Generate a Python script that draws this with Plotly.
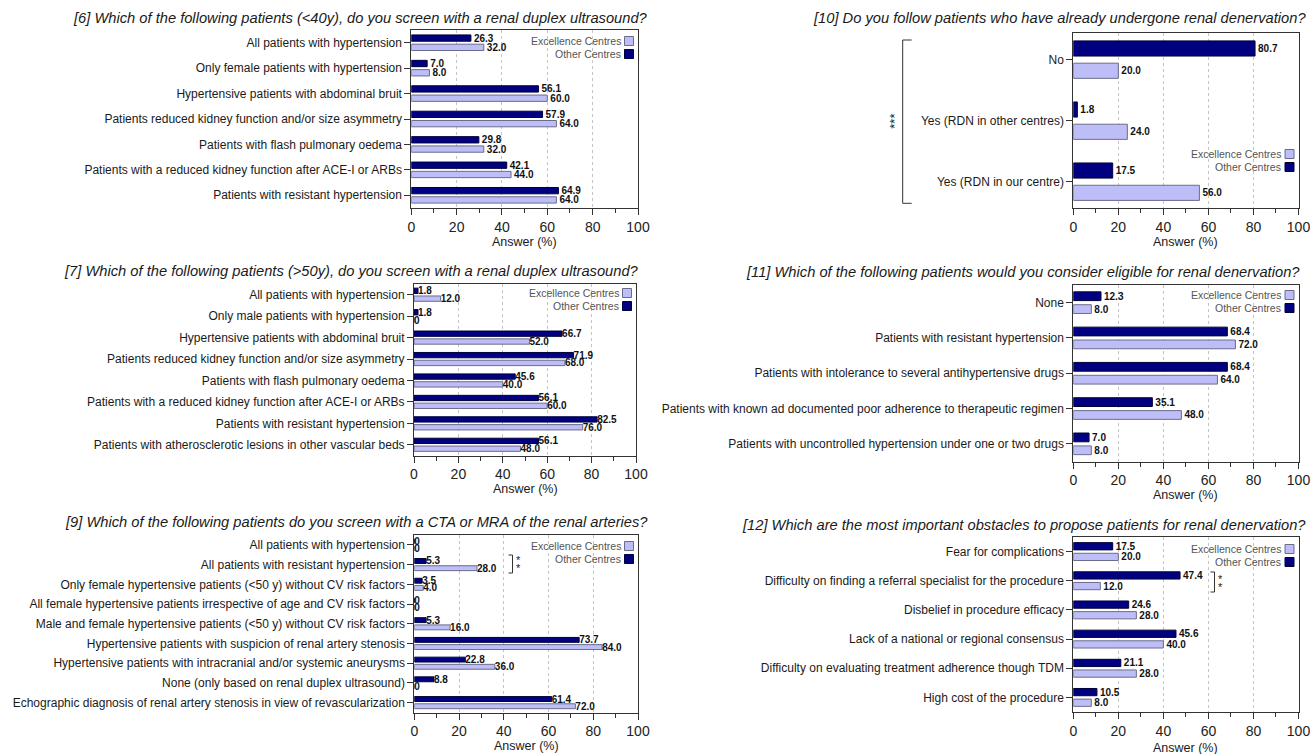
import plotly.graph_objects as go

W, H = 1311, 754
FONT = "Liberation Sans, Arial, sans-serif"

# ---------------- data ----------------
q6_title = "[6] Which of the following patients (&lt;40y), do you screen with a renal duplex ultrasound?"
q6_cats = ["All patients with hypertension", "Only female patients with hypertension",
           "Hypertensive patients with abdominal bruit", "Patients reduced kidney function and/or size asymmetry",
           "Patients with flash pulmonary oedema", "Patients with a reduced kidney function after ACE-I or ARBs",
           "Patients with resistant hypertension"]
q6_other = [26.3, 7.0, 56.1, 57.9, 29.8, 42.1, 64.9]
q6_exc = [32.0, 8.0, 60.0, 64.0, 32.0, 44.0, 64.0]

q10_title = "[10] Do you follow patients who have already undergone renal denervation?"
q10_cats = ["No", "Yes (RDN in other centres)", "Yes (RDN in our centre)"]
q10_other = [80.7, 1.8, 17.5]
q10_exc = [20.0, 24.0, 56.0]

q7_title = "[7] Which of the following patients (>50y), do you screen with a renal duplex ultrasound?"
q7_cats = ["All patients with hypertension", "Only male patients with hypertension",
           "Hypertensive patients with abdominal bruit", "Patients reduced kidney function and/or size asymmetry",
           "Patients with flash pulmonary oedema", "Patients with a reduced kidney function after ACE-I or ARBs",
           "Patients with resistant hypertension", "Patients with atherosclerotic lesions in other vascular beds"]
q7_other = [1.8, 1.8, 66.7, 71.9, 45.6, 56.1, 82.5, 56.1]
q7_exc = [12.0, 0, 52.0, 68.0, 40.0, 60.0, 76.0, 48.0]

q11_title = "[11] Which of the following patients would you consider eligible for renal denervation?"
q11_cats = ["None", "Patients with resistant hypertension",
            "Patients with intolerance to several antihypertensive drugs",
            "Patients with known ad documented poor adherence to therapeutic regimen",
            "Patients with uncontrolled hypertension under one or two drugs"]
q11_other = [12.3, 68.4, 68.4, 35.1, 7.0]
q11_exc = [8.0, 72.0, 64.0, 48.0, 8.0]

q9_title = "[9] Which of the following patients do you screen with a CTA or MRA of the renal arteries?"
q9_cats = ["All patients with hypertension", "All patients with resistant hypertension",
           "Only female hypertensive patients (<50 y) without CV risk factors",
           "All female hypertensive patients irrespective of age and CV risk factors",
           "Male and female hypertensive patients (<50 y) without CV risk factors",
           "Hypertensive patients with suspicion of renal artery stenosis",
           "Hypertensive patients with intracranial and/or systemic aneurysms",
           "None (only based on renal duplex ultrasound)",
           "Echographic diagnosis of renal artery stenosis in view of revascularization"]
q9_other = [0, 5.3, 3.5, 0, 5.3, 73.7, 22.8, 8.8, 61.4]
q9_exc = [0, 28.0, 4.0, 0, 16.0, 84.0, 36.0, 0, 72.0]

q12_title = "[12] Which are the most important obstacles to propose patients for renal denervation?"
q12_cats = ["Fear for complications", "Difficulty on finding a referral specialist for the procedure",
            "Disbelief in procedure efficacy", "Lack of a national or regional consensus",
            "Difficulty on evaluating treatment adherence though TDM", "High cost of the procedure"]
q12_other = [17.5, 47.4, 24.6, 45.6, 21.1, 10.5]
q12_exc = [20.0, 12.0, 28.0, 40.0, 28.0, 8.0]

x_ticks = [0, 20, 40, 60, 80, 100]
x_title = "Answer (%)"
series_names = ["Other Centres", "Excellence Centres"]

# ---------------- styles / geometry (pixels) ----------------
OTHER = "#000080"
OTHER_LINE = "#00003a"
EXC = "#bdbdf7"
EXC_LINE = "#6c6c8a"

panels = [
    dict(title=q6_title, cats=q6_cats, other=q6_other, exc=q6_exc,
         px=(411.3, 638.0), py=(30, 208), tx=650, ty=18, aty=242, leg=(41, 54)),
    dict(title=q10_title, cats=q10_cats, other=q10_other, exc=q10_exc,
         px=(1073.3, 1298.5), py=(33, 208.3), tx=1308, ty=18, aty=242, leg=(154, 167),
         yrange=[2.436, -0.436]),
    dict(title=q7_title, cats=q7_cats, other=q7_other, exc=q7_exc,
         px=(414.0, 636.0), py=(284, 455.5), tx=641, ty=271, aty=489, leg=(293, 306)),
    dict(title=q11_title, cats=q11_cats, other=q11_other, exc=q11_exc,
         px=(1073.3, 1298.5), py=(285, 461.5), tx=1302, ty=272, aty=495, leg=(295, 308)),
    dict(title=q9_title, cats=q9_cats, other=q9_other, exc=q9_exc,
         px=(414.3, 638.0), py=(535, 712.5), tx=650, ty=522, aty=746, leg=(546, 559)),
    dict(title=q12_title, cats=q12_cats, other=q12_other, exc=q12_exc,
         px=(1073.3, 1298.5), py=(537, 712), tx=1308, ty=525, aty=748, leg=(549, 562)),
]


def fx(p):
    return p / W


def fy(p):
    return 1 - p / H


def fmt(vals):
    return ["0" if v == 0 else f"{v:.1f}" for v in vals]


fig = go.Figure()
layout = dict(
    width=W, height=H, margin=dict(l=0, r=0, t=0, b=0, autoexpand=False),
    paper_bgcolor="white", plot_bgcolor="white",
    barmode="group", bargap=0.27, bargroupgap=0.32,
    showlegend=False, font=dict(family=FONT, color="#1a1a1a"),
)
annotations = []
shapes = []

for i, p in enumerate(panels, start=1):
    sx = "" if i == 1 else str(i)
    xa, ya = "x" + sx, "y" + sx
    for name, vals, col, lcol in [(series_names[0], p["other"], OTHER, OTHER_LINE),
                                  (series_names[1], p["exc"], EXC, EXC_LINE)]:
        fig.add_trace(go.Bar(
            y=p["cats"], x=vals, orientation="h", name=name, xaxis=xa, yaxis=ya,
            marker=dict(color=col, line=dict(color=lcol, width=1)),
            text=fmt(vals), textposition="outside", constraintext="none", cliponaxis=False,
            textfont=dict(size=10, color="#111111", family=FONT, weight="bold"),
        ))
    layout["xaxis" + sx] = dict(
        domain=[fx(p["px"][0]), fx(p["px"][1])], anchor=ya, range=[0, 100],
        tickvals=x_ticks, ticks="outside", ticklen=6, tickcolor="#333",
        tickfont=dict(size=14, color="#222"), ticklabeloverflow="allow",
        minor=dict(ticks="outside", ticklen=4, dtick=10, tick0=0, tickcolor="#333", showgrid=False),
        showgrid=True, gridcolor="#c4c4c4", griddash="dot", gridwidth=1,
        showline=True, mirror=True, linecolor="#333", linewidth=1, zeroline=False,
        fixedrange=True, automargin=False,
    )
    yax = dict(
        domain=[fy(p["py"][1]), fy(p["py"][0])], anchor=xa, type="category",
        categoryorder="array", categoryarray=p["cats"],
        ticks="outside", ticklen=6, tickcolor="#333",
        tickfont=dict(size=12, color="#1a1a1a"), ticklabeloverflow="allow",
        showgrid=False, showline=True, mirror=True, linecolor="#333", linewidth=1,
        zeroline=False, fixedrange=True, automargin=False,
    )
    if "yrange" in p:
        yax["range"] = p["yrange"]
    else:
        yax["autorange"] = "reversed"
    layout["yaxis" + sx] = yax

    # title
    annotations.append(dict(text="<i>" + p["title"] + "</i>", xref="paper", yref="paper",
                            x=fx(p["tx"]), y=fy(p["ty"]), xanchor="right", yanchor="middle",
                            showarrow=False, font=dict(size=14.7, color="#1a1a1a")))
    # axis title
    annotations.append(dict(text=x_title, xref="paper", yref="paper",
                            x=fx((p["px"][0] + p["px"][1]) / 2), y=fy(p["aty"]),
                            xanchor="center", yanchor="middle", showarrow=False,
                            font=dict(size=12.5, color="#1a1a1a")))
    # legend (text then square)
    right = p["px"][1]
    for ly, nm, col, lcol in [(p["leg"][0], series_names[1], EXC, EXC_LINE),
                              (p["leg"][1], series_names[0], OTHER, OTHER_LINE)]:
        shapes.append(dict(type="rect", xref="paper", yref="paper",
                           x0=fx(right - 13.5), x1=fx(right - 4.5),
                           y0=fy(ly + 4.5), y1=fy(ly - 4.5),
                           fillcolor=col, line=dict(color=lcol, width=1)))
        annotations.append(dict(text=nm, xref="paper", yref="paper",
                                x=fx(right - 15.5), y=fy(ly), xanchor="right", yanchor="middle",
                                showarrow=False, font=dict(size=10.5, color="#555555")))

# significance markers
line_style = dict(color="#333", width=1)
# panel [10]: big bracket with ***
bx, by0, by1 = 902.7, 40, 203.3
shapes += [
    dict(type="line", xref="paper", yref="paper", x0=fx(bx), x1=fx(bx), y0=fy(by0), y1=fy(by1), line=line_style),
    dict(type="line", xref="paper", yref="paper", x0=fx(bx), x1=fx(bx + 9), y0=fy(by0), y1=fy(by0), line=line_style),
    dict(type="line", xref="paper", yref="paper", x0=fx(bx), x1=fx(bx + 9), y0=fy(by1), y1=fy(by1), line=line_style),
]
annotations.append(dict(text="***", xref="paper", yref="paper", x=fx(895), y=fy(121.7),
                        xanchor="center", yanchor="middle", textangle=-90, showarrow=False,
                        font=dict(size=13, color="#222")))
# panel [9] and [12]: small ] brackets with stacked **
for (bx, y0, y1, ax, a0, a1) in [(512.5, 555, 573, 518.5, 560, 568),
                                  (1214.5, 572, 592, 1220.5, 579, 587)]:
    shapes += [
        dict(type="line", xref="paper", yref="paper", x0=fx(bx), x1=fx(bx), y0=fy(y0), y1=fy(y1), line=line_style),
        dict(type="line", xref="paper", yref="paper", x0=fx(bx - 4), x1=fx(bx), y0=fy(y0), y1=fy(y0), line=line_style),
        dict(type="line", xref="paper", yref="paper", x0=fx(bx - 4), x1=fx(bx), y0=fy(y1), y1=fy(y1), line=line_style),
    ]
    for ay in (a0, a1):
        annotations.append(dict(text="*", xref="paper", yref="paper", x=fx(ax), y=fy(ay),
                                xanchor="center", yanchor="middle", showarrow=False,
                                font=dict(size=11, color="#222")))

layout["annotations"] = annotations
layout["shapes"] = shapes
fig.update_layout(**layout)
fig.write_html("out.html", config={"displayModeBar": False},
               post_script="document.body.style.margin='0';document.body.style.overflow='hidden';")
